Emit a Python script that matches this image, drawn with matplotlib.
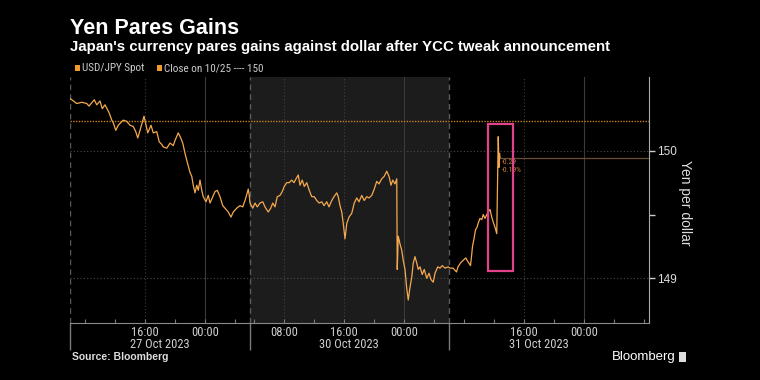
import matplotlib
matplotlib.use("Agg")
import matplotlib.pyplot as plt
from matplotlib import font_manager
from matplotlib.patches import Rectangle
from matplotlib.transforms import blended_transform_factory
from datetime import datetime, timedelta

# ---------------- data ----------------
times1 = ["10-27 06:00","10-27 06:54","10-27 07:34","10-27 08:14","10-27 08:32","10-27 09:14","10-27 09:34","10-27 10:00","10-27 10:18","10-27 10:40",
          "10-27 11:12","10-27 11:34","10-27 11:46","10-27 12:06","10-27 12:26","10-27 13:06","10-27 13:34","10-27 14:00","10-27 14:26","10-27 14:46",
          "10-27 15:02","10-27 15:20","10-27 15:52","10-27 16:08","10-27 16:22","10-27 16:48","10-27 17:06","10-27 17:34","10-27 17:54","10-27 18:14",
          "10-27 18:26","10-27 18:54","10-27 19:20","10-27 19:46","10-27 20:00","10-27 20:26","10-27 20:46","10-27 21:02","10-27 21:20","10-27 21:38",
          "10-27 22:00","10-27 22:14","10-27 22:26","10-27 22:40","10-27 22:54","10-27 23:06","10-27 23:20","10-27 23:34","10-27 23:46","10-28 00:08",
          "10-28 00:26","10-28 00:40","10-28 01:02","10-28 01:20","10-28 01:38","10-28 02:00","10-28 02:22","10-28 02:40","10-28 03:06","10-28 03:28",
          "10-28 03:46","10-28 04:14","10-28 04:40","10-28 05:02","10-28 05:20","10-28 05:38","10-28 05:46","10-28 05:54"]
prices1 = [150.41,150.37,150.38,150.37,150.35,150.40,150.36,150.39,150.33,150.36,
           150.30,150.24,150.22,150.16,150.20,150.24,150.23,150.20,150.19,150.15,
           150.10,150.16,150.27,150.20,150.14,150.20,150.14,150.15,150.07,150.05,
           150.03,150.02,150.06,150.04,150.08,150.14,150.10,150.06,149.98,149.91,
           149.83,149.80,149.73,149.67,149.73,149.69,149.77,149.69,149.64,149.60,
           149.65,149.59,149.64,149.68,149.69,149.64,149.57,149.55,149.52,149.48,
           149.52,149.55,149.57,149.56,149.61,149.67,149.70,149.65]

times2 = ["10-30 03:30","10-30 03:52","10-30 04:10","10-30 04:28","10-30 04:50","10-30 05:12","10-30 05:30","10-30 05:56","10-30 06:16","10-30 06:32",
          "10-30 06:50","10-30 07:08","10-30 07:30","10-30 07:48","10-30 08:04","10-30 08:24","10-30 08:44","10-30 09:04","10-30 09:22","10-30 09:38",
          "10-30 09:56","10-30 10:10","10-30 10:28","10-30 10:44","10-30 11:04","10-30 11:24","10-30 11:44","10-30 12:04","10-30 12:24","10-30 12:44",
          "10-30 13:04","10-30 13:22","10-30 13:44","10-30 14:02","10-30 14:24","10-30 14:42","10-30 15:04","10-30 15:16","10-30 15:30","10-30 15:44",
          "10-30 15:56","10-30 16:10","10-30 16:24","10-30 16:42","10-30 17:04","10-30 17:24","10-30 17:44","10-30 18:02","10-30 18:24","10-30 18:44",
          "10-30 19:04","10-30 19:22","10-30 19:44","10-30 20:04","10-30 20:24","10-30 20:42","10-30 21:04","10-30 21:24","10-30 21:44","10-30 22:02",
          "10-30 22:18","10-30 22:32","10-30 22:50","10-30 23:04","10-30 23:06","10-30 23:08","10-30 23:16","10-30 23:30","10-30 23:44","10-30 23:56",
          "10-31 00:10","10-31 00:24","10-31 00:36","10-31 00:50","10-31 01:04","10-31 01:16","10-31 01:30","10-31 01:44","10-31 01:56","10-31 02:10",
          "10-31 02:28","10-31 02:44","10-31 03:04","10-31 03:22","10-31 03:38","10-31 03:56","10-31 04:10","10-31 04:32","10-31 04:50","10-31 05:08",
          "10-31 05:30","10-31 05:56"]
prices2 = [149.59,149.55,149.59,149.56,149.59,149.60,149.56,149.52,149.55,149.59,
           149.56,149.64,149.65,149.68,149.72,149.75,149.75,149.77,149.75,149.78,
           149.81,149.73,149.77,149.72,149.75,149.69,149.64,149.64,149.61,149.59,
           149.60,149.57,149.60,149.56,149.61,149.64,149.67,149.64,149.57,149.52,
           149.43,149.31,149.43,149.48,149.51,149.59,149.63,149.60,149.65,149.61,
           149.64,149.63,149.65,149.70,149.76,149.74,149.78,149.80,149.84,149.80,
           149.73,149.77,149.74,149.78,149.33,149.07,149.33,149.27,149.22,149.14,
           149.07,148.92,148.83,148.93,149.01,149.12,149.17,149.12,149.07,149.09,
           149.03,149.07,149.00,149.04,148.99,148.97,149.04,149.09,149.08,149.10,
           149.08,149.09]

times3 = ["10-31 06:10","10-31 06:34","10-31 07:02","10-31 07:14","10-31 07:34","10-31 07:54","10-31 08:16","10-31 08:34","10-31 08:54","10-31 09:02",
          "10-31 09:10","10-31 09:22","10-31 09:34","10-31 09:46","10-31 09:58","10-31 10:10","10-31 10:24","10-31 10:36","10-31 10:50","10-31 11:04",
          "10-31 11:16","10-31 11:30","10-31 11:44","10-31 11:56","10-31 12:10","10-31 12:24","10-31 12:36","10-31 12:38","10-31 12:42","10-31 12:46",
          "10-31 12:50"]
prices3 = [149.08,149.08,149.05,149.09,149.12,149.14,149.16,149.13,149.10,149.17,
           149.25,149.31,149.38,149.40,149.44,149.47,149.46,149.50,149.47,149.50,
           149.52,149.54,149.48,149.44,149.40,149.35,150.11,150.03,149.87,149.98,
           149.945]

close_1025 = 150.233
session_labels = ["27 Oct 2023", "30 Oct 2023", "31 Oct 2023"]
time_tick_labels = ["10-27 16:00", "10-28 00:00", "10-30 08:00", "10-30 16:00",
                    "10-31 00:00", "10-31 16:00", "11-01 00:00"]
highlight_times = ["10-31 11:18", "10-31 14:32"]
highlight_prices = [149.06, 150.21]

# ---------------- helpers ----------------
def parse(s):
    return datetime.strptime("2023-" + s, "%Y-%m-%d %H:%M")

SEG1_START = parse("10-27 06:00")
SEG1_END = parse("10-28 06:00")
SEG2_START = parse("10-30 03:30")
SEG3_START = parse("10-31 06:00")
AXIS_END = parse("11-01 08:42")

def to_x(t):
    if t <= SEG1_END:
        return (t - SEG1_START).total_seconds() / 3600.0
    return 24.0 + (t - SEG2_START).total_seconds() / 3600.0

available = {f.name for f in font_manager.fontManager.ttflist}
def pick(*names):
    for n in names:
        if n in available:
            return n
    return "DejaVu Sans"
NARROW = pick("Liberation Sans Narrow", "Roboto Condensed", "Liberation Sans")
SANS = pick("Liberation Sans", "DejaVu Sans")

W, H = 760, 380
BG = "#000000"
LINE = "#f5a94f"

fig = plt.figure(figsize=(W / 100, H / 100), dpi=100, facecolor=BG)
ax = fig.add_axes([70 / W, 1 - 323 / H, (649 - 70) / W, (323 - 77) / H])
ax.set_facecolor(BG)

x_all = [to_x(parse(t)) for t in times1 + times2 + times3]
y_all = prices1 + prices2 + prices3
x0, x1 = 0.0, to_x(AXIS_END)
ax.set_xlim(x0, x1)
ax.set_ylim(148.65, 150.578)

# shading for 30 Oct session
ax.axvspan(to_x(SEG2_START), to_x(SEG3_START), color="#1c1c1c", zorder=0, lw=0)

# gridlines
for yv in [149, 150]:
    ax.axhline(yv, color="#4a4a4a", lw=0.8, ls=(0, (1, 2)), zorder=1)
for lab in time_tick_labels:
    xv = to_x(parse(lab))
    if lab.endswith("00:00"):
        ax.axvline(xv, color="#3a3a3a", lw=0.8, zorder=1)
    else:
        ax.axvline(xv, color="#3f3f3f", lw=0.8, ls=(0, (1, 2)), zorder=1)
for b in [SEG1_START, SEG2_START, SEG3_START]:
    ax.axvline(to_x(b), color="#5a5a5a", lw=1.0, ls=(0, (4, 3)), zorder=1)

# close line
ax.axhline(close_1025, color="#c8801e", lw=1.0, ls=(0, (1, 1)), zorder=2)

# series
ax.plot(x_all, y_all, color=LINE, lw=0.9, zorder=4)

# last value line + annotation
last_x, last_y = x_all[-1], y_all[-1]
ax.plot([last_x, x1], [last_y, last_y], color="#6a4e33", lw=0.9, zorder=3)
chg = last_y - close_1025
pct = chg / close_1025 * 100
ax.text(last_x + 0.3, last_y - 0.03, f"{chg:.2f}", color="#c9803c", fontsize=5.5,
        family=NARROW, va="center", ha="left", zorder=5)
ax.text(last_x + 0.3, last_y - 0.095, f"{pct:.2f}%", color="#c9803c", fontsize=5.5,
        family=NARROW, va="center", ha="left", zorder=5)

# highlight box
hx0 = to_x(parse(highlight_times[0]))
hx1 = to_x(parse(highlight_times[1]))
ax.add_patch(Rectangle((hx0, highlight_prices[0]), hx1 - hx0,
                       highlight_prices[1] - highlight_prices[0],
                       fill=False, edgecolor="#e2428a", lw=1.6, zorder=6))

# spines
for s in ["left", "top"]:
    ax.spines[s].set_visible(False)
ax.spines["right"].set_color("#aaaaaa")
ax.spines["bottom"].set_color("#8a8a8a")

# y axis on right
ax.yaxis.tick_right()
ax.set_yticks([149, 150])
ax.set_yticks([149.5], minor=True)
ax.tick_params(axis="y", which="both", colors="#cccccc", length=4, width=1,
               labelsize=8.5, pad=2)
for t in ax.get_yticklabels():
    t.set_family(SANS)
    t.set_color("#dddddd")

# x ticks: long separators (major), every-4h minor ticks
bounds = [to_x(SEG1_START), to_x(SEG2_START), to_x(SEG3_START)]
ax.set_xticks(bounds)
ax.set_xticklabels([])
minor = []
for start, end in [(SEG1_START, SEG1_END), (SEG2_START, AXIS_END)]:
    t = start.replace(minute=0)
    while t.hour % 4 != 0 or t <= start:
        t += timedelta(hours=1)
    while t < end:
        minor.append(to_x(t))
        t += timedelta(hours=4)
ax.set_xticks(minor, minor=True)
ax.tick_params(axis="x", which="major", length=19.5, width=1, color="#7a7a7a", direction="out")
ax.tick_params(axis="x", which="minor", length=3, width=0.8, color="#7a7a7a", direction="in")

tr = blended_transform_factory(ax.transData, fig.transFigure)
for lab in time_tick_labels:
    ax.text(to_x(parse(lab)), 1 - 332 / H, lab.split(" ")[1], transform=tr,
            ha="center", va="center", color="#d0d0d0", fontsize=9, family=NARROW,
            clip_on=False)
sess_centers = [(to_x(SEG1_START) + to_x(SEG1_END)) / 2,
                (to_x(SEG2_START) + to_x(SEG3_START)) / 2,
                (539 - 70) / 7.5]
for xc, lab in zip(sess_centers, session_labels):
    ax.text(xc, 1 - 345 / H, lab, transform=tr, ha="center", va="center",
            color="#d0d0d0", fontsize=9, family=NARROW, clip_on=False)

# y label
fig.text(685 / W, 1 - 203 / H, "Yen per dollar", rotation=-90, ha="center", va="center",
         color="#dddddd", fontsize=10, family=SANS)

# titles
fig.text(70 / W, 1 - 28 / H, "Yen Pares Gains", ha="left", va="center", color="white",
         fontsize=15.5, fontweight="bold", family=SANS)
fig.text(70 / W, 1 - 47.5 / H, "Japan's currency pares gains against dollar after YCC tweak announcement",
         ha="left", va="center", color="white", fontsize=10.8, fontweight="bold", family=SANS)

# legend
fig.patches.append(Rectangle((75 / W, 1 - 71 / H), 5 / W, 6 / H, transform=fig.transFigure,
                             facecolor="#f29a2e", edgecolor="none"))
fig.text(82 / W, 1 - 68 / H, "USD/JPY Spot", ha="left", va="center", color="#cccccc",
         fontsize=8, family=NARROW)
fig.patches.append(Rectangle((157 / W, 1 - 71 / H), 5 / W, 6 / H, transform=fig.transFigure,
                             facecolor="#f29a2e", edgecolor="none"))
fig.text(164 / W, 1 - 68 / H, "Close on 10/25 ---- 150", ha="left", va="center", color="#cccccc",
         fontsize=8, family=NARROW)

# footer
fig.text(72 / W, 1 - 357 / H, "Source: Bloomberg", ha="left", va="center", color="#dddddd",
         fontsize=7.5, fontweight="bold", family=SANS)
fig.text(676 / W, 1 - 357 / H, "Bloomberg", ha="right", va="center", color="white",
         fontsize=9.5, family=SANS)
fig.patches.append(Rectangle((679 / W, 1 - 362 / H), 7 / W, 10 / H, transform=fig.transFigure,
                             facecolor="#dddddd", edgecolor="none"))

fig.savefig("out.png", dpi=100, facecolor=BG)
